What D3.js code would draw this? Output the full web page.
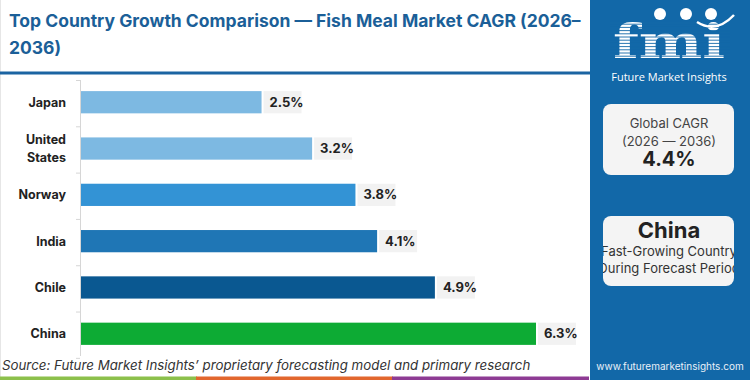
<!DOCTYPE html>
<html><head><meta charset="utf-8">
<script src="https://cdn.jsdelivr.net/npm/d3@7"></script>
<style>html,body{margin:0;padding:0;background:#fff;}svg{display:block;}</style>
</head><body>
<svg id="c" width="750" height="380"></svg>
<script>
const categories = ["Japan", "United States", "Norway", "India", "Chile", "China"];
const values = [2.5, 3.2, 3.8, 4.1, 4.9, 6.3];
const barColors = ["#7db9e2", "#7db9e2", "#3393d5", "#1f76b5", "#0a5891", "#0dab34"];
const valueLabels = ["2.5%", "3.2%", "3.8%", "4.1%", "4.9%", "6.3%"];
const titleLines = ["Top Country Growth Comparison \u2014 Fish Meal Market CAGR (2026\u2013", "2036)"];
const globalLines = ["Global CAGR", "(2026 \u2014 2036)"];
const globalValue = "4.4%";
const leaderName = "China";
const leaderLines = ["Fast-Growing Country", "During Forecast Period"];
const sourceText = "Source: Future Market Insights\u2019 proprietary forecasting model and primary research";
const siteText = "www.futuremarketinsights.com";
const stripColors = ["#8cc04b", "#e2672e", "#8e3b94"];

const svg = d3.select("#c");
const F = "Inter, 'Open Sans', sans-serif";

// left border line
svg.append("rect").attr("x", 0).attr("y", 0).attr("width", 1).attr("height", 377).attr("fill", "#e6e6e6");

// title
svg.append("g").selectAll("text").data(titleLines).join("text")
  .attr("x", 9).attr("y", (d, i) => 27 + i * 27)
  .attr("font-family", F).attr("font-weight", 700).attr("font-size", 17.5)
  .attr("fill", "#1b5f98").text(d => d);
svg.append("rect").attr("x", 0).attr("y", 71.5).attr("width", 591).attr("height", 3).attr("fill", "#1b64a2");

// scales
const x = d3.scaleLinear().domain([0, 6.3]).range([81, 536]);
const y = d3.scaleBand().domain(categories).range([80, 356]).paddingInner(0.52).paddingOuter(0.24);

// axis line + ticks
svg.append("line").attr("x1", 80.5).attr("x2", 80.5).attr("y1", 80).attr("y2", 356)
  .attr("stroke", "#d6d6d6").attr("stroke-width", 1);
const bounds = d3.range(categories.length + 1).map(i => 80 + i * y.step());
svg.append("g").selectAll("line").data(bounds).join("line")
  .attr("x1", 76).attr("x2", 80).attr("y1", d => d + 0.5).attr("y2", d => d + 0.5)
  .attr("stroke", "#d6d6d6");

// bars
svg.append("g").selectAll("rect").data(values).join("rect")
  .attr("x", x(0)).attr("y", (d, i) => y(categories[i]))
  .attr("width", d => x(d) - x(0)).attr("height", y.bandwidth())
  .attr("fill", (d, i) => barColors[i]);

// value labels
const vl = svg.append("g").selectAll("g").data(values).join("g")
  .attr("transform", (d, i) => `translate(${x(d) + 2},${y(categories[i])})`);
vl.append("rect").attr("x", 0).attr("y", 0).attr("width", 38).attr("height", y.bandwidth()).attr("fill", "#f2f2f2");
vl.append("text").attr("x", 6).attr("y", y.bandwidth() / 2 + 4.5)
  .attr("font-family", F).attr("font-weight", 700).attr("font-size", 13).attr("fill", "#222")
  .text((d, i) => valueLabels[i]);

// category labels
const cl = svg.append("g").selectAll("text").data(categories).join("text")
  .attr("text-anchor", "end").attr("font-family", F).attr("font-weight", 700).attr("font-size", 12.5)
  .attr("fill", "#222");
cl.each(function(d) {
  const t = d3.select(this);
  const cy = y(d) + y.bandwidth() / 2;
  const parts = d === "United States" ? ["United", "States"] : [d];
  parts.forEach((p, j) => {
    t.append("tspan").attr("x", 66).attr("y", cy + 4.5 + (j - (parts.length - 1) / 2) * 18).text(p);
  });
});

// source
svg.append("text").attr("x", 2).attr("y", 370).attr("font-family", F).attr("font-style", "italic")
  .attr("font-size", 13.3).attr("fill", "#333").text(sourceText);

// bottom strip
svg.append("g").selectAll("rect").data(stripColors).join("rect")
  .attr("x", (d, i) => i * 196).attr("y", 376.5).attr("width", 197).attr("height", 3.5).attr("fill", d => d);

// right panel
const P = svg.append("g");
P.append("rect").attr("x", 590).attr("y", 0).attr("width", 160).attr("height", 380).attr("fill", "#1268a8");

// logo
const logo = P.append("g");
logo.append("text").attr("x", 669).attr("y", 58).attr("text-anchor", "middle")
  .attr("font-family", "'DejaVu Serif', serif").attr("font-weight", 700).attr("font-size", 46)
  .attr("textLength", 112).attr("lengthAdjust", "spacingAndGlyphs")
  .attr("fill", "#fff").text("fmi");
logo.append("g").selectAll("line").data(d3.range(21, 60, 3.2)).join("line")
  .attr("x1", 610).attr("x2", 730).attr("y1", d => d).attr("y2", d => d)
  .attr("stroke", "#1268a8").attr("stroke-width", 0.9);
logo.append("g").selectAll("circle").data([660, 686, 711]).join("circle")
  .attr("cx", d => d).attr("cy", 14).attr("r", 6).attr("fill", "#fff");
logo.append("path").attr("d", "M697,22 Q716,34 734,15").attr("fill", "none").attr("stroke", "#fff").attr("stroke-width", 2.5);
logo.append("text").attr("x", 669).attr("y", 81).attr("text-anchor", "middle")
  .attr("font-family", "'Open Sans', sans-serif").attr("font-size", 11).attr("fill", "#fff")
  .text("Future Market Insights");

// global box
P.append("rect").attr("x", 603).attr("y", 104).attr("width", 131).attr("height", 71).attr("rx", 8).attr("fill", "#f4f4f4");
P.append("g").selectAll("text").data(globalLines).join("text")
  .attr("x", 669).attr("y", (d, i) => 128 + i * 18).attr("text-anchor", "middle")
  .attr("font-family", F).attr("font-size", 13).attr("fill", "#444").text(d => d);
P.append("text").attr("x", 669).attr("y", 166).attr("text-anchor", "middle")
  .attr("font-family", F).attr("font-weight", 700).attr("font-size", 20).attr("fill", "#222").text(globalValue);

// leader box
P.append("defs").append("clipPath").attr("id", "lb")
  .append("rect").attr("x", 603).attr("y", 216).attr("width", 131).attr("height", 70);
P.append("rect").attr("x", 603).attr("y", 216).attr("width", 131).attr("height", 70).attr("rx", 8).attr("fill", "#f4f4f4");
P.append("text").attr("x", 669).attr("y", 238).attr("text-anchor", "middle")
  .attr("font-family", F).attr("font-weight", 700).attr("font-size", 22).attr("fill", "#222").text(leaderName);
P.append("g").attr("clip-path", "url(#lb)").selectAll("text").data(leaderLines).join("text")
  .attr("x", 669).attr("y", (d, i) => 256 + i * 17).attr("text-anchor", "middle")
  .attr("font-family", F).attr("font-size", 13).attr("fill", "#333").text(d => d);

// site
P.append("text").attr("x", 670).attr("y", 370).attr("text-anchor", "middle")
  .attr("font-family", F).attr("font-size", 10).attr("fill", "#e8f0f8").text(siteText);
</script>
</body></html>
